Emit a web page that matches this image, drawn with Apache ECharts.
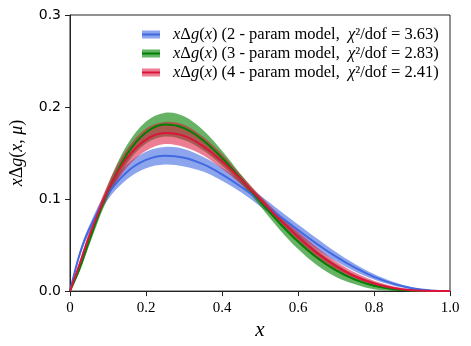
<!DOCTYPE html>
<html>
<head>
<meta charset="utf-8">
<script src="https://cdn.jsdelivr.net/npm/echarts@6/dist/echarts.min.js"></script>
<style>
  html, body { margin: 0; padding: 0; background: #fff; }
  #chart { width: 471px; height: 346px; }
</style>
</head>
<body>
<div id="chart"></div>
<script>
// sample points along x
var xs = [0, 0.025, 0.05, 0.1, 0.15, 0.2, 0.25, 0.3, 0.35, 0.4, 0.45, 0.5,
          0.55, 0.6, 0.65, 0.7, 0.75, 0.8, 0.85, 0.9, 0.95, 1.0];

// 2-param model (blue)
var blueMid = [0, 0.0395, 0.0668, 0.1055, 0.1295, 0.1425, 0.1471, 0.1450, 0.1379, 0.1269, 0.1134, 0.0982,
               0.0822, 0.0664, 0.0512, 0.0374, 0.0254, 0.0155, 0.0081, 0.0031, 0.0006, 0];
var blueErr = [0, 0.003, 0.004, 0.006, 0.008, 0.009, 0.0095, 0.0095, 0.008, 0.007, 0.006, 0.006,
               0.006, 0.006, 0.006, 0.005, 0.004, 0.003, 0.002, 0.001, 0.0005, 0];
// 3-param model (green)
var greenMid = [0, 0.0242, 0.0540, 0.1087, 0.1487, 0.1723, 0.1809, 0.1771, 0.1640, 0.1446, 0.1218, 0.0978,
                0.0746, 0.0538, 0.0362, 0.0224, 0.0124, 0.0059, 0.0022, 0.0005, 0.0001, 0];
var greenErr = [0, 0.003, 0.005, 0.007, 0.010, 0.012, 0.013, 0.013, 0.011, 0.008, 0.005, 0.005,
                0.007, 0.008, 0.008, 0.007, 0.005, 0.004, 0.002, 0.0005, 0.0001, 0];
// 4-param model (red)
var redMid = [0, 0.0290, 0.0590, 0.1095, 0.1444, 0.1646, 0.1718, 0.1687, 0.1576, 0.1410, 0.1211, 0.0998,
              0.0786, 0.0588, 0.0415, 0.0271, 0.0161, 0.0083, 0.0034, 0.0010, 0.0001, 0];
var redErr = [0, 0.003, 0.005, 0.007, 0.010, 0.012, 0.012, 0.012, 0.010, 0.008, 0.005, 0.004,
              0.005, 0.006, 0.006, 0.005, 0.004, 0.003, 0.002, 0.001, 0.0001, 0];

var legendTexts = [
  '{i|x}Δ{i|g}({i|x}) (2 - param model,  {i|χ}²/dof = 3.63)',
  '{i|x}Δ{i|g}({i|x}) (3 - param model,  {i|χ}²/dof = 2.83)',
  '{i|x}Δ{i|g}({i|x}) (4 - param model,  {i|χ}²/dof = 2.41)'
];

var models = [
  { mid: blueMid, err: blueErr, line: '#4169e1', band: 'rgba(65,105,225,0.6)' },
  { mid: greenMid, err: greenErr, line: '#008000', band: 'rgba(0,128,0,0.6)' },
  { mid: redMid, err: redErr, line: '#dc143c', band: 'rgba(220,20,60,0.55)' }
];

// band drawn as one polygon through the axis scales
var bandRenderer = function(m) {
  return function(params, api) {
    var top = [], bot = [];
    for (var i = 0; i < xs.length; i++) {
      top.push(api.coord([xs[i], m.mid[i] + m.err[i]]));
      bot.push(api.coord([xs[i], Math.max(0, m.mid[i] - m.err[i])]));
    }
    var pts = top.concat(bot.reverse());
    return {
      type: 'polygon',
      shape: { points: pts, smooth: 0.35 },
      style: { fill: m.band, stroke: null }
    };
  };
};

var series = [];
models.forEach(function(m) {
  series.push({
    type: 'custom', coordinateSystem: 'cartesian2d', clip: true, silent: true,
    data: [[0, 0]], renderItem: bandRenderer(m)
  });
  var mid = [];
  for (var i = 0; i < xs.length; i++) mid.push([xs[i], m.mid[i]]);
  series.push({
    type: 'line', data: mid, smooth: 0.35,
    symbol: 'none', silent: true, lineStyle: { color: m.line, width: 2 }
  });
});

var richBase = {
  i: { fontStyle: 'italic', fontFamily: 'Liberation Serif', fontSize: 16.5 }
};

var graphics = [];
var rowY = [34.5, 53.5, 72.5];
models.forEach(function(m, k) {
  var cy = rowY[k];
  graphics.push({ type: 'rect', left: 142, top: cy - 4, z: 100, shape: { width: 18, height: 8 },
                  style: { fill: m.band } });
  graphics.push({ type: 'line', z: 101, shape: { x1: 142, y1: cy, x2: 160, y2: cy },
                  style: { stroke: m.line, lineWidth: 2 } });
  graphics.push({ type: 'text', x: 173, y: cy, z: 100,
                  style: { text: legendTexts[k], fontFamily: 'Liberation Serif', fontSize: 16.5,
                           fill: '#000', verticalAlign: 'middle', rich: richBase } });
});

var option = {
  animation: false,
  grid: { left: 66, right: 21, top: 15, bottom: 54, show: true, borderColor: '#222', borderWidth: 1 },
  xAxis: {
    type: 'value', min: 0, max: 1, interval: 0.2,
    name: 'x', nameLocation: 'middle', nameGap: 20,
    nameTextStyle: { fontFamily: 'Liberation Serif', fontStyle: 'italic', fontSize: 21, color: '#000' },
    axisLine: { show: true, lineStyle: { color: '#222' } },
    axisTick: { show: true, length: 5, lineStyle: { color: '#222' } },
    splitLine: { show: false },
    axisLabel: { margin: 9, color: '#000', fontFamily: 'Liberation Serif', fontSize: 15,
                 formatter: function(v) { return v === 0 ? '0' : v.toFixed(1); } }
  },
  yAxis: {
    type: 'value', min: 0, max: 0.3, interval: 0.1,
    name: '{i|x}Δ{i|g}({i|x}, {i|μ})', nameLocation: 'middle', nameGap: 44,
    nameTextStyle: { fontFamily: 'Liberation Serif', fontSize: 18, color: '#000',
                     rich: { i: { fontStyle: 'italic', fontFamily: 'Liberation Serif', fontSize: 18 } } },
    axisLine: { show: true, lineStyle: { color: '#222' } },
    axisTick: { show: true, length: 5, lineStyle: { color: '#222' } },
    splitLine: { show: false },
    axisLabel: { margin: 9, color: '#000', fontFamily: 'DejaVu Sans', fontSize: 14,
                 formatter: function(v) { return v.toFixed(1); } }
  },
  series: series,
  graphic: graphics
};

var chart = echarts.init(document.getElementById('chart'));
chart.setOption(option);
</script>
</body>
</html>
